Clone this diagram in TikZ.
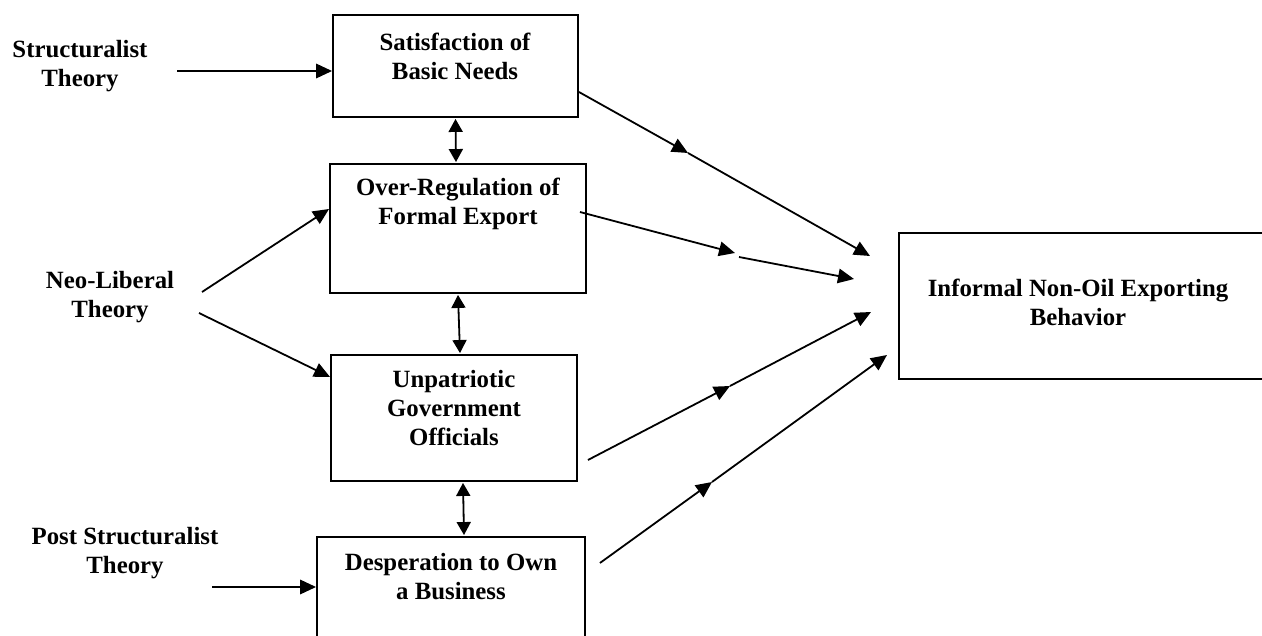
\documentclass[tikz,border=0pt]{standalone}
\usepackage{fontspec}
\setmainfont{Liberation Serif}
\usetikzlibrary{arrows.meta}
\tikzset{
  box/.style={draw=black, line width=1.9pt, fill=none, inner sep=0pt},
  lbl/.style={align=center, inner sep=0pt, font=\bfseries\fontsize{24.8}{29}\selectfont},
  conn/.style={line width=1.8pt, -{Triangle[length=16pt,width=14.5pt]}},
  both/.style={line width=1.8pt, {Triangle[length=13pt,width=14pt]}-{Triangle[length=13pt,width=14pt]}},
  plain/.style={line width=1.8pt}
}
\begin{document}
\begin{tikzpicture}[x=1pt,y=-1pt]
\clip (0,0) rectangle (1262,636);
\fill[white] (0,0) rectangle (1262,636);

% boxes
\node[box, minimum width=245pt, minimum height=102pt] (b1) at (455.5,66) {};
\node[box, minimum width=256pt, minimum height=129pt] (b2) at (458,228.5) {};
\node[box, minimum width=246pt, minimum height=126pt] (b3) at (454,418) {};
\node[box, minimum width=268pt, minimum height=143pt] (b4) at (451,608.5) {};
\node[box, minimum width=371pt, minimum height=146pt] (bI) at (1084.5,306) {};

% box texts
\node[lbl] (t1) at (455,56) {Satisfaction of\\Basic Needs};
\node[lbl] (t2) at (458,204) {Over-Regulation of\\Formal Export};
\node[lbl] (t3) at (454,408) {Unpatriotic\\Government\\Officials};
\node[lbl] (t4) at (451,577) {Desperation to Own\\a Business};
\node[lbl] (tI) at (1078,302) {Informal Non-Oil Exporting\\Behavior};

% theories
\node[lbl] (st) at (80,66) {Structuralist\\Theory};
\node[lbl] (nl) at (110,297) {Neo-Liberal\\Theory};
\node[lbl] (ps) at (125,553) {Post Structuralist\\Theory};

% free ends
\coordinate (s1) at (177,71);
\coordinate (n1) at (202,292);
\coordinate (n2) at (199,313);
\coordinate (p1) at (212,587);

\draw[conn] (s1) -- ([yshift=-5pt]b1.west);
\draw[conn] (n1) -- ([yshift=19.5pt]b2.west);
\draw[conn] (n2) -- ([yshift=41pt]b3.west);
\draw[conn] (p1) -- ([yshift=21.5pt]b4.west);

% vertical double arrows
\draw[both] ([yshift=-1pt]b1.south) -- ([xshift=-2pt,yshift=1pt]b2.north);
\draw[both] ([yshift=-1pt]b2.south) -- ([xshift=6pt,yshift=1pt]b3.north);
\draw[both] ([xshift=9pt,yshift=-1pt]b3.south) -- ([xshift=13pt,yshift=1pt]b4.north);

% arrows to outcome
\coordinate (m1) at (688,153);
\coordinate (e1) at (870,256);
\draw[conn] ([yshift=-26pt]b1.east) -- (m1);
\draw[conn] (m1) -- (e1);

\coordinate (m2) at (735,253);
\coordinate (m2b) at (739,257);
\coordinate (e2) at (854,279);
\draw[conn] ([xshift=-7pt,yshift=16.5pt]b2.east) -- (m2);
\draw[conn] (m2b) -- (e2);

\coordinate (m3) at (730,386);
\coordinate (e3) at (871,312);
\draw[conn] ([xshift=10pt,yshift=-42pt]b3.east) -- (m3);
\draw[conn] (m3) -- (e3);

\coordinate (m4) at (712,482);
\coordinate (e4) at (887,355);
\draw[conn] ([xshift=14pt,yshift=45.5pt]b4.east) -- (m4);
\draw[conn] (m4) -- (e4);
\end{tikzpicture}
\end{document}
